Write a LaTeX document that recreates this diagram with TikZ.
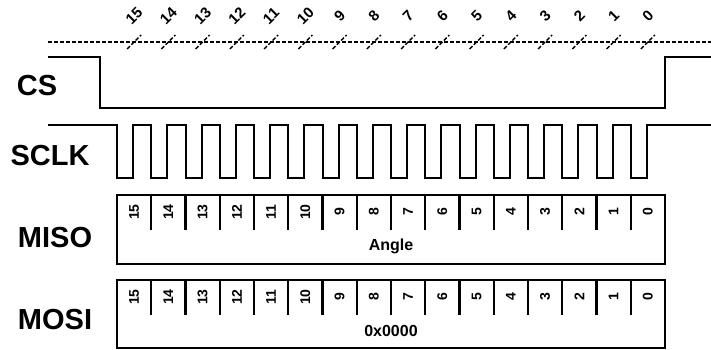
\documentclass[tikz,border=0pt]{standalone}
\usepackage{fontspec}
\setmainfont{Liberation Sans}
\usepackage{tikz}
\usetikzlibrary{arrows.meta,positioning,calc}

\begin{document}
\begin{tikzpicture}[x=1pt, y=-1pt, >=Stealth,
  sig/.style={line width=2.6pt},
  clk/.style={line width=2pt},
  regbox/.style={line width=2.4pt},
  ruler/.style={line width=1.3pt, dash pattern=on 4pt off 2pt},
  signame/.style={font=\fontsize{29}{29}\selectfont\bfseries},
  bitnum/.style={font=\fontsize{14}{14}\selectfont\bfseries, rotate=90, inner sep=0pt},
  topnum/.style={font=\fontsize{15}{15}\selectfont\bfseries, rotate=45, inner sep=0pt},
  regval/.style={font=\fontsize{16}{16}\selectfont\bfseries}]
\useasboundingbox (0,0) rectangle (711,349);
\def\per{34.25}
% signal names
\node[signame] (cs) at (37,86) {CS};
\node[signame] (sclk) at (50,156) {SCLK};
\node[signame] (miso) at (55,238) {MISO};
\node[signame] (mosi) at (55,320) {MOSI};
% bit ruler on top
\draw[ruler] (48,42) -- (711,42);
\foreach \b in {0,...,15} {
  \pgfmathsetmacro{\xc}{117+\per*(15-\b)+\per/2}
  \node[topnum] (top\b) at (\xc,16) {\b};
  \draw[ruler] (\xc-7,49) -- (\xc+7,35);
  \node[bitnum] (mi\b) at (\xc,212) {\b};
  \node[bitnum] (mo\b) at (\xc,297) {\b};
}
% chip select
\draw[sig] (48,57) -- (100,57) -- (100,108) -- (665,108) -- (665,57) -- (711,57);
% clock
\draw[clk] (48,125) \foreach \k in {0,...,15} { -| ({117+\per*\k},178) -| ({133+\per*\k},125) } -- (711,125);
% data registers
\draw[regbox] (117,195) rectangle (665,264);
\draw[regbox] (117,280) rectangle (665,348);
\foreach \k in {1,...,15} {
  \draw[regbox] ({117+\per*\k},195) -- ++(0,35);
  \draw[regbox] ({117+\per*\k},280) -- ++(0,35);
}
\node[regval] (angle) at (391,246) {Angle};
\node[regval] (zero) at (391,331) {0x0000};
\end{tikzpicture}
\end{document}
